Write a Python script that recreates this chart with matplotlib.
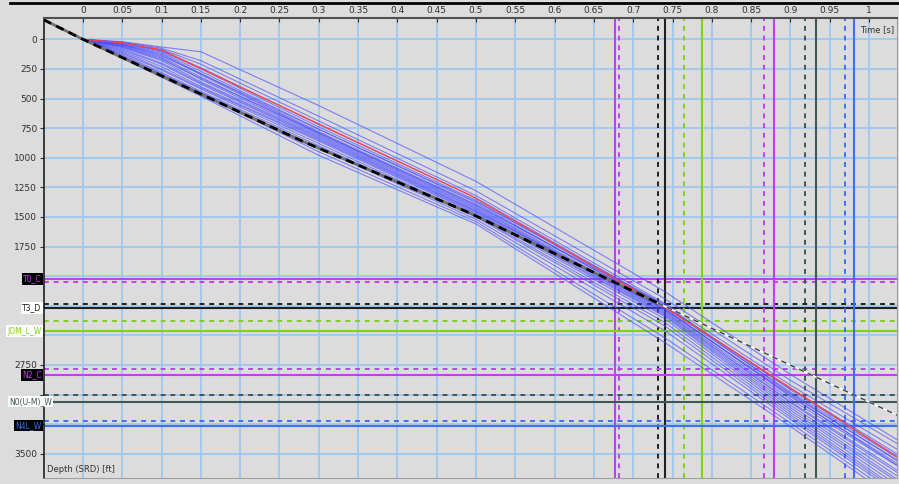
"""Time-depth chart: well TD curves with horizon / time markers."""

import matplotlib
matplotlib.use("Agg")
import matplotlib.pyplot as plt
from matplotlib.lines import Line2D

# ---- data -----------------------------------------------------------------
# knot times (s) shared by all blue TD curves
knot_t = [0, 0.05, 0.1, 0.15, 0.3, 0.5, 0.74, 0.9, 1.05]
blue_curves = [
    [0, 20, 65, 105, 560, 1200, 2130, 2830, 3440],
    [0, 25, 75, 180, 650, 1280, 2190, 2880, 3470],
    [0, 30, 85, 210, 690, 1320, 2230, 2920, 3520],
    [0, 28, 95, 240, 720, 1340, 2250, 2950, 3560],
    [0, 35, 100, 250, 740, 1360, 2260, 2980, 3590],
    [0, 40, 110, 270, 760, 1380, 2280, 3000, 3610],
    [0, 45, 120, 290, 780, 1395, 2270, 3020, 3640],
    [0, 50, 130, 300, 790, 1410, 2290, 3040, 3660],
    [0, 55, 150, 320, 800, 1420, 2300, 3060, 3700],
    [0, 60, 160, 340, 810, 1430, 2310, 3070, 3720],
    [0, 70, 180, 360, 820, 1440, 2320, 3090, 3750],
    [0, 80, 200, 370, 830, 1450, 2280, 3010, 3660],
    [0, 90, 210, 380, 840, 1455, 2330, 3110, 3780],
    [0, 100, 230, 400, 850, 1465, 2340, 3130, 3800],
    [0, 110, 250, 410, 860, 1475, 2360, 3150, 3830],
    [0, 120, 260, 420, 880, 1490, 2390, 3170, 3860],
    [0, 130, 280, 440, 900, 1500, 2420, 3190, 3880],
    [0, 140, 290, 450, 920, 1520, 2460, 3210, 3900],
    [0, 150, 300, 460, 950, 1540, 2520, 3240, 3930],
    [0, 160, 320, 480, 980, 1560, 2560, 3270, 3960],
    [0, 65, 170, 330, 790, 1400, 2250, 2960, 3580],
    [0, 45, 140, 290, 760, 1370, 2240, 2990, 3620],
]

red_t = [0, 0.05, 0.1, 0.276, 0.492, 0.742, 0.865, 1.036]
red_d = [0, 30, 90, 640, 1315, 2270, 2793, 3530]

check_t = [-0.05, 0, 0.276, 0.492, 0.7316]
check_d = [-165, 0, 851, 1467, 2228]
extrap_t = [0.7316, 1.036]
extrap_d = [2228, 3175]

# horizons: name, depth of solid line, depth of dashed line, colour, label style
horizons = ["T0_C", "T3_D", "JOM_L_W", "N2_C", "N0(U-M)_W", "N4L_W"]
hz_solid = [2025, 2270, 2464, 2835, 3061, 3264]
hz_dashed = [2050, 2233, 2377, 2782, 3004, 3224]
hz_color = ["#c040f0", "#202020", "#80d020", "#c040f0", "#405555", "#3f6ff0"]
hz_label_bg = ["black", "white", "white", "black", "white", "black"]

# time markers (s), same order/colours as horizons
tm_solid = [0.677, 0.740, 0.788, 0.879, 0.9326, 0.981]
tm_dashed = [0.682, 0.7316, 0.765, 0.866, 0.919, 0.970]

x_ticks = [0, 0.05, 0.1, 0.15, 0.2, 0.25, 0.3, 0.35, 0.4, 0.45, 0.5,
           0.55, 0.6, 0.65, 0.7, 0.75, 0.8, 0.85, 0.9, 0.95, 1]
x_labels = ["0", "0.05", "0.1", "0.15", "0.2", "0.25", "0.3", "0.35", "0.4",
            "0.45", "0.5", "0.55", "0.6", "0.65", "0.7", "0.75", "0.8",
            "0.85", "0.9", "0.95", "1"]
y_grid = [0, 250, 500, 750, 1000, 1250, 1500, 1750, 2000, 2250, 2500,
          2750, 3000, 3250, 3500]
y_labels = ["0", "250", "500", "750", "1000", "1250", "1500", "1750",
            "", "", "", "2750", "", "", "3500"]

BG = "#dcdcdc"
GRID = "#9ec8f0"

fig = plt.figure(figsize=(8.99, 4.84), dpi=100, facecolor=BG)
ax = fig.add_axes([44 / 899, 1 - 478 / 484, (897 - 44) / 899, (478 - 18) / 484])
ax.set_facecolor(BG)

ax.set_xlim(-0.0496, 1.0356)
ax.set_ylim(3705, -180)

# grid
for x in x_ticks:
    ax.axvline(x, color=GRID, lw=1.3, zorder=1)
for y in y_grid:
    ax.axhline(y, color=GRID, lw=1.3, zorder=1)

# horizons (horizontal) and time markers (vertical)
for i in range(len(horizons)):
    c = hz_color[i]
    ax.axhline(hz_solid[i], color=c, lw=1.5, zorder=2)
    ax.axhline(hz_dashed[i], color=c, lw=1.4, ls=(0, (2.5, 2.5)), zorder=2)
    ax.axvline(tm_solid[i], color=c, lw=1.5, zorder=2)
    ax.axvline(tm_dashed[i], color=c, lw=1.4, ls=(0, (2.5, 2.5)), zorder=2)

# TD curves
for d in blue_curves:
    ax.plot(knot_t, d, color="#4a4aff", lw=0.8, alpha=0.65, zorder=3)
ax.plot(red_t, red_d, color="#ff4040", lw=0.9, zorder=4)
ax.plot(check_t, check_d, color="#707070", lw=2.0, zorder=5)
ax.plot(check_t, check_d, color="black", lw=2.0, ls=(0, (3, 2)), zorder=5)
ax.plot(extrap_t, extrap_d, color="white", lw=1.2, zorder=5)
ax.plot(extrap_t, extrap_d, color="#404040", lw=1.0, ls=(0, (4, 3)), zorder=5)

# horizon labels left of axis (the long one starts near the picture edge)
for i, name in enumerate(horizons):
    box = dict(boxstyle="square,pad=0.15", fc=hz_label_bg[i], ec="none")
    if len(name) > 8:
        y = ax.transData.transform((0, hz_solid[i]))[1] / fig.bbox.height
        fig.text(9 / 899, y, name, ha="left", va="center", fontsize=5.5,
                 color=hz_color[i], bbox=box, zorder=6)
    else:
        ax.text(-0.003, hz_solid[i], name, transform=ax.get_yaxis_transform(),
                ha="right", va="center", fontsize=5.5, color=hz_color[i],
                bbox=box, clip_on=False, zorder=6)

# axes cosmetics
ax.xaxis.tick_top()
ax.set_xticks(x_ticks)
ax.set_xticklabels(x_labels, fontsize=6.5, color="#303030")
ax.set_yticks(y_grid)
ax.set_yticklabels(y_labels, fontsize=6.5, color="#303030")
ax.tick_params(axis="x", direction="in", length=3, pad=2, color="#303030")
ax.tick_params(axis="y", direction="out", length=3, pad=2, color="#303030")
ax.spines["top"].set_color("#505050")
ax.spines["top"].set_linewidth(1.5)
ax.spines["left"].set_color("#202020")
ax.spines["left"].set_linewidth(1.2)
for s in ("right", "bottom"):
    ax.spines[s].set_color("#a0a0a0")
    ax.spines[s].set_linewidth(0.8)

ax.text(0.997, 0.985, "Time [s]", transform=ax.transAxes, ha="right",
        va="top", fontsize=6, color="#303030", zorder=7)
ax.text(0.004, 0.008, "Depth (SRD) [ft]", transform=ax.transAxes, ha="left",
        va="bottom", fontsize=6, color="#303030", zorder=7)

# frame line across the top of the picture
fig.add_artist(Line2D([10 / 899, 1], [1 - 3 / 484, 1 - 3 / 484],
                      color="black", lw=2.0))

fig.savefig("out.png", dpi=100, facecolor=BG)
